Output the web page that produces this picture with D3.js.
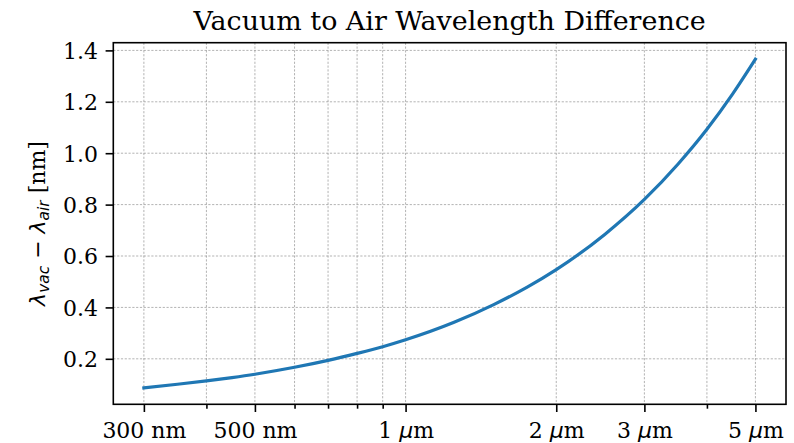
<!DOCTYPE html>
<html>
<head>
<meta charset="utf-8">
<script src="https://cdn.jsdelivr.net/npm/d3@7"></script>
<style>
  body { margin: 0; background: #fff; }
  svg text { font-family: "DejaVu Serif", serif; fill: #000; }
</style>
</head>
<body>
<div id="chart"></div>
<script>
// wavelength (nm) and vacuum - air difference (nm)
const wavelengths = [300, 350, 400, 450, 500, 600, 700, 800, 900, 1000, 1250, 1500, 1750, 2000, 2500, 3000, 3500, 4000, 4500, 5000];
const differences = [0.087, 0.101, 0.114, 0.127, 0.140, 0.167, 0.194, 0.221, 0.247, 0.274, 0.342, 0.411, 0.479, 0.547, 0.684, 0.820, 0.957, 1.093, 1.230, 1.366];

const xMajorTicks = [300, 500, 1000, 2000, 3000, 5000];
const xTickNumbers = ["300", "500", "1", "2", "3", "5"];
const xTickUnits = ["nm", "nm", "μm", "μm", "μm", "μm"];
const xMinorTicks = [400, 600, 700, 800, 900, 4000];
const yTicks = [0.2, 0.4, 0.6, 0.8, 1.0, 1.2, 1.4];

const width = 794, height = 443;
const margin = { top: 42.7, right: 8, bottom: 38.7, left: 113.3 };
const plotW = width - margin.left - margin.right;
const plotH = height - margin.top - margin.bottom;

const data = wavelengths.map((w, i) => ({ w: w, d: differences[i] }));

// matplotlib style 5% margins (log space for x)
const lx = d3.extent(wavelengths).map(Math.log10);
const padX = (lx[1] - lx[0]) * 0.05;
const ey = d3.extent(differences);
const padY = (ey[1] - ey[0]) * 0.05;

const x = d3.scaleLog()
    .domain([Math.pow(10, lx[0] - padX), Math.pow(10, lx[1] + padX)])
    .range([0, plotW]);
const y = d3.scaleLinear()
    .domain([ey[0] - padY, ey[1] + padY])
    .range([plotH, 0]);

const svg = d3.select("#chart").append("svg")
    .attr("width", width)
    .attr("height", height);

const g = svg.append("g")
    .attr("transform", `translate(${margin.left},${margin.top})`);

// grid
const gridStyle = sel => sel
    .attr("stroke", "#7f7f7f")
    .attr("stroke-width", 0.6)
    .attr("stroke-dasharray", "2.2,1.6");

g.append("g").selectAll("line")
    .data(xMajorTicks.concat(xMinorTicks))
    .join("line")
    .attr("x1", d => x(d)).attr("x2", d => x(d))
    .attr("y1", 0).attr("y2", plotH)
    .call(gridStyle);

g.append("g").selectAll("line")
    .data(yTicks)
    .join("line")
    .attr("x1", 0).attr("x2", plotW)
    .attr("y1", d => y(d)).attr("y2", d => y(d))
    .call(gridStyle);

// curve
const line = d3.line()
    .x(d => x(d.w))
    .y(d => y(d.d))
    .curve(d3.curveMonotoneX);

g.append("path")
    .datum(data)
    .attr("fill", "none")
    .attr("stroke", "#1f77b4")
    .attr("stroke-width", 3.2)
    .attr("stroke-linecap", "square")
    .attr("d", line);

// axes
const xAxis = g.append("g")
    .attr("transform", `translate(0,${plotH})`)
    .call(d3.axisBottom(x).tickValues(xMajorTicks).tickSize(7.7).tickPadding(7.7).tickFormat(""));
const xMinor = g.append("g")
    .attr("transform", `translate(0,${plotH})`)
    .call(d3.axisBottom(x).tickValues(xMinorTicks).tickSize(4.4).tickFormat(""));
const yAxis = g.append("g")
    .call(d3.axisLeft(y).tickValues(yTicks).tickSize(7.7).tickPadding(7.7).tickFormat(d3.format(".1f")));

[xAxis, xMinor, yAxis].forEach(a => {
    a.select(".domain").remove();
    a.selectAll(".tick line").attr("stroke", "#000").attr("stroke-width", 1.6);
});

yAxis.selectAll(".tick text")
    .attr("font-size", 22)
    .attr("font-family", "DejaVu Serif")
    .attr("dy", "0.36em");

// x tick labels: number + unit, mathtext style μ
xAxis.selectAll(".tick").each(function (d, i) {
    const t = d3.select(this).append("text")
        .attr("y", 33.5)
        .attr("text-anchor", "middle")
        .attr("font-size", 22)
        .attr("fill", "#000");
    t.append("tspan").text(xTickNumbers[i] + " ");
    if (xTickUnits[i] === "μm") {
        t.append("tspan").attr("font-family", "DejaVu Sans").attr("font-style", "italic").text("μ");
        t.append("tspan").text("m");
    } else {
        t.append("tspan").text(xTickUnits[i]);
    }
});

// frame
g.append("rect")
    .attr("width", plotW)
    .attr("height", plotH)
    .attr("fill", "none")
    .attr("stroke", "#000")
    .attr("stroke-width", 1.6);

// title
svg.append("text")
    .attr("x", margin.left + plotW / 2)
    .attr("y", 30)
    .attr("text-anchor", "middle")
    .attr("font-size", 26.9)
    .text("Vacuum to Air Wavelength Difference");

// y label: λ_vac − λ_air [nm]
const yl = svg.append("text")
    .attr("transform", `translate(45,${margin.top + plotH / 2}) rotate(-90)`)
    .attr("text-anchor", "middle")
    .attr("font-size", 22);
const sans = "DejaVu Sans";
yl.append("tspan").attr("font-family", sans).attr("font-style", "italic").text("λ");
yl.append("tspan").attr("font-family", sans).attr("font-style", "italic")
    .attr("font-size", 15.4).attr("dy", 4).text("vac");
yl.append("tspan").attr("font-family", sans).attr("dy", -4).text(" − ");
yl.append("tspan").attr("font-family", sans).attr("font-style", "italic").text("λ");
yl.append("tspan").attr("font-family", sans).attr("font-style", "italic")
    .attr("font-size", 15.4).attr("dy", 4).text("air");
yl.append("tspan").attr("dy", -4).text(" [nm]");
</script>
</body>
</html>
